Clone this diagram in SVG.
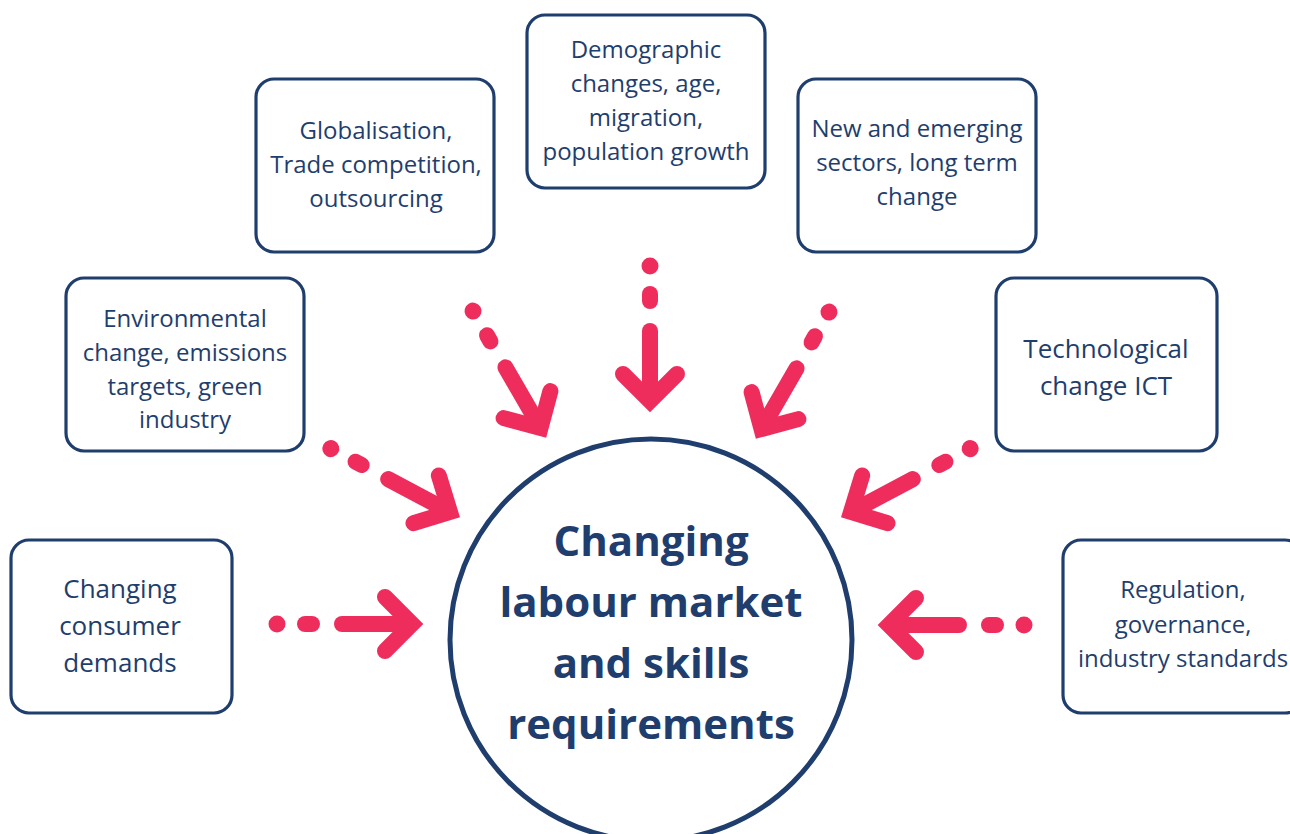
<svg xmlns="http://www.w3.org/2000/svg" width="1290" height="834" viewBox="0 0 1290 834">
<defs>
<style>
.box{fill:#fff;stroke:#1f3e6d;stroke-width:3.2}
.t{font-family:"Open Sans","Noto Sans",sans-serif;fill:#1f3e6d;text-anchor:middle;font-size:24px}
.t26{font-size:26px}
.big{font-family:"Open Sans","Noto Sans",sans-serif;fill:#1f3e6d;text-anchor:middle;font-weight:bold;font-size:42px}
.ln{stroke:#ee2d5d;stroke-width:16;stroke-linecap:round;fill:none}
.hd{stroke:#ee2d5d;stroke-width:16;stroke-linecap:round;stroke-linejoin:miter;fill:none}
.dot{fill:#ee2d5d}
</style>
<g id="arrow">
<circle class="dot" cx="-135" cy="0" r="8.5"/>
<line class="ln" x1="-107" y1="0" x2="-100" y2="0"/>
<line class="ln" x1="-70" y1="0" x2="-2" y2="0"/>
<polyline class="hd" points="-27,-27 0,0 -27,27"/>
</g>
</defs>
<rect width="1290" height="834" fill="#fff"/>

<g id="connectors">
<use href="#arrow" transform="translate(412,624)"/>
<use href="#arrow" transform="translate(889,625) rotate(180)"/>
<use href="#arrow" transform="translate(650,401) rotate(90)"/>
<use href="#arrow" transform="translate(540.5,428) rotate(60)"/>
<use href="#arrow" transform="translate(761.5,429) rotate(120)"/>
<use href="#arrow" transform="translate(450,512) rotate(28)"/>
<use href="#arrow" transform="translate(851,512) rotate(152)"/>
</g>

<g id="center">
<circle cx="651" cy="640" r="201" fill="#fff" stroke="#1f3e6d" stroke-width="5"/>
<text class="big" x="651" y="556">Changing</text>
<text class="big" x="651" y="617">labour market</text>
<text class="big" x="651" y="678">and skills</text>
<text class="big" x="651" y="739">requirements</text>
</g>

<g id="consumer">
<rect class="box" x="11" y="540" width="221" height="173" rx="18"/>
<text class="t t26" x="120" y="598">Changing</text>
<text class="t t26" x="120" y="635">consumer</text>
<text class="t t26" x="120" y="672">demands</text>
</g>

<g id="environmental">
<rect class="box" x="66" y="278" width="238" height="173" rx="18"/>
<text class="t" x="185" y="327">Environmental</text>
<text class="t" x="185" y="361">change, emissions</text>
<text class="t" x="185" y="395">targets, green</text>
<text class="t" x="185" y="428">industry</text>
</g>

<g id="globalisation">
<rect class="box" x="256" y="79" width="238" height="173" rx="18"/>
<text class="t" x="376" y="139">Globalisation,</text>
<text class="t" x="376" y="173">Trade competition,</text>
<text class="t" x="376" y="207">outsourcing</text>
</g>

<g id="demographic">
<rect class="box" x="527" y="15" width="238" height="173" rx="18"/>
<text class="t" x="646" y="58">Demographic</text>
<text class="t" x="646" y="92">changes, age,</text>
<text class="t" x="646" y="126">migration,</text>
<text class="t" x="646" y="160">population growth</text>
</g>

<g id="emerging">
<rect class="box" x="798" y="79" width="238" height="173" rx="18"/>
<text class="t" x="917" y="137">New and emerging</text>
<text class="t" x="917" y="171">sectors, long term</text>
<text class="t" x="917" y="205">change</text>
</g>

<g id="technological">
<rect class="box" x="996" y="278" width="221" height="173" rx="18"/>
<text class="t t26" x="1106" y="358">Technological</text>
<text class="t t26" x="1106" y="395">change ICT</text>
</g>

<g id="regulation">
<rect class="box" x="1063" y="540" width="240" height="173" rx="18"/>
<text class="t" x="1183" y="598">Regulation,</text>
<text class="t" x="1183" y="633">governance,</text>
<text class="t" x="1183" y="667">industry standards</text>
</g>
</svg>
